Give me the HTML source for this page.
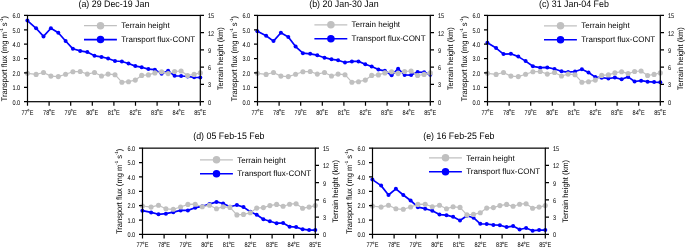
<!DOCTYPE html>
<html><head><meta charset="utf-8"><style>
html,body{margin:0;padding:0;background:#fff;}
body{width:685px;height:247px;overflow:hidden;}
svg{display:block;}
text{font-family:"Liberation Sans", sans-serif;fill:#000;text-rendering:geometricPrecision;}
.lg{font-size:8px;}
.tl{font-size:5.6px;}
.deg{font-size:4px;}
.tt{font-size:8.85px;}
.at{font-size:7.55px;}
.sup{font-size:4.3px;}
</style></head><body>
<svg width="685" height="247" viewBox="0 0 685 247">
<defs><filter id="bl" x="0" y="0" width="100%" height="100%"><feGaussianBlur stdDeviation="0.35"/></filter></defs>
<rect width="685" height="247" fill="#fff"/>
<g filter="url(#bl)">
<g transform="translate(0,0)">
<polyline points="27.4,20.6 36.1,28.3 43.5,36.4 50.9,28.2 58.3,32.8 65.6,41 72.9,48.8 80.2,50.9 87.3,52.1 94.5,55.8 101.5,56.9 108.1,58.5 115,61 121.9,61.5 128.5,63.5 135.3,66.1 141.7,67.2 148.4,69.1 154.9,69.7 161.6,73.8 168.1,70.7 174.6,75.8 181.1,76 187.6,76.5 194.1,77.3 200.3,77.5" fill="none" stroke="#0000ff" stroke-width="1.7" stroke-linejoin="round"/>
<circle cx="27.4" cy="20.6" r="2.0" fill="#0000ff"/>
<circle cx="36.1" cy="28.3" r="2.0" fill="#0000ff"/>
<circle cx="43.5" cy="36.4" r="2.0" fill="#0000ff"/>
<circle cx="50.9" cy="28.2" r="2.0" fill="#0000ff"/>
<circle cx="58.3" cy="32.8" r="2.0" fill="#0000ff"/>
<circle cx="65.6" cy="41" r="2.0" fill="#0000ff"/>
<circle cx="72.9" cy="48.8" r="2.0" fill="#0000ff"/>
<circle cx="80.2" cy="50.9" r="2.0" fill="#0000ff"/>
<circle cx="87.3" cy="52.1" r="2.0" fill="#0000ff"/>
<circle cx="94.5" cy="55.8" r="2.0" fill="#0000ff"/>
<circle cx="101.5" cy="56.9" r="2.0" fill="#0000ff"/>
<circle cx="108.1" cy="58.5" r="2.0" fill="#0000ff"/>
<circle cx="115" cy="61" r="2.0" fill="#0000ff"/>
<circle cx="121.9" cy="61.5" r="2.0" fill="#0000ff"/>
<circle cx="128.5" cy="63.5" r="2.0" fill="#0000ff"/>
<circle cx="135.3" cy="66.1" r="2.0" fill="#0000ff"/>
<circle cx="141.7" cy="67.2" r="2.0" fill="#0000ff"/>
<circle cx="148.4" cy="69.1" r="2.0" fill="#0000ff"/>
<circle cx="154.9" cy="69.7" r="2.0" fill="#0000ff"/>
<circle cx="161.6" cy="73.8" r="2.0" fill="#0000ff"/>
<circle cx="168.1" cy="70.7" r="2.0" fill="#0000ff"/>
<circle cx="174.6" cy="75.8" r="2.0" fill="#0000ff"/>
<circle cx="181.1" cy="76" r="2.0" fill="#0000ff"/>
<circle cx="187.6" cy="76.5" r="2.0" fill="#0000ff"/>
<circle cx="194.1" cy="77.3" r="2.0" fill="#0000ff"/>
<circle cx="200.3" cy="77.5" r="2.0" fill="#0000ff"/>
<polyline points="27.4,73.3 36.1,74.4 43.5,72.5 50.9,76.1 58.3,76.6 65.6,74.3 72.9,71.7 80.2,71.5 87.3,74.1 94.5,72.5 101.5,76 108.1,74.1 115,74.7 121.9,82.2 128.5,81.7 135.3,80.1 141.7,75.4 148.4,74.9 154.9,72.9 161.6,71.7 168.1,73.6 174.6,71.5 181.1,71 187.6,75.5 194.1,74.4 200.3,72.9" fill="none" stroke="#c0c0c0" stroke-width="1.2" stroke-linejoin="round"/>
<circle cx="27.4" cy="73.3" r="2.55" fill="#c0c0c0"/>
<circle cx="36.1" cy="74.4" r="2.55" fill="#c0c0c0"/>
<circle cx="43.5" cy="72.5" r="2.55" fill="#c0c0c0"/>
<circle cx="50.9" cy="76.1" r="2.55" fill="#c0c0c0"/>
<circle cx="58.3" cy="76.6" r="2.55" fill="#c0c0c0"/>
<circle cx="65.6" cy="74.3" r="2.55" fill="#c0c0c0"/>
<circle cx="72.9" cy="71.7" r="2.55" fill="#c0c0c0"/>
<circle cx="80.2" cy="71.5" r="2.55" fill="#c0c0c0"/>
<circle cx="87.3" cy="74.1" r="2.55" fill="#c0c0c0"/>
<circle cx="94.5" cy="72.5" r="2.55" fill="#c0c0c0"/>
<circle cx="101.5" cy="76" r="2.55" fill="#c0c0c0"/>
<circle cx="108.1" cy="74.1" r="2.55" fill="#c0c0c0"/>
<circle cx="115" cy="74.7" r="2.55" fill="#c0c0c0"/>
<circle cx="121.9" cy="82.2" r="2.55" fill="#c0c0c0"/>
<circle cx="128.5" cy="81.7" r="2.55" fill="#c0c0c0"/>
<circle cx="135.3" cy="80.1" r="2.55" fill="#c0c0c0"/>
<circle cx="141.7" cy="75.4" r="2.55" fill="#c0c0c0"/>
<circle cx="148.4" cy="74.9" r="2.55" fill="#c0c0c0"/>
<circle cx="154.9" cy="72.9" r="2.55" fill="#c0c0c0"/>
<circle cx="161.6" cy="71.7" r="2.55" fill="#c0c0c0"/>
<circle cx="168.1" cy="73.6" r="2.55" fill="#c0c0c0"/>
<circle cx="174.6" cy="71.5" r="2.55" fill="#c0c0c0"/>
<circle cx="181.1" cy="71" r="2.55" fill="#c0c0c0"/>
<circle cx="187.6" cy="75.5" r="2.55" fill="#c0c0c0"/>
<circle cx="194.1" cy="74.4" r="2.55" fill="#c0c0c0"/>
<circle cx="200.3" cy="72.9" r="2.55" fill="#c0c0c0"/>
<g transform="translate(0,0)">
<line x1="84" y1="25.7" x2="116.9" y2="25.7" stroke="#c0c0c0" stroke-width="1.2"/>
<circle cx="100.5" cy="25.7" r="3.75" fill="#c0c0c0"/>
<line x1="84" y1="39.6" x2="116.9" y2="39.6" stroke="#0000ff" stroke-width="1.6"/>
<circle cx="100.5" cy="39.6" r="3.75" fill="#0000ff"/>
<text x="121.2" y="28.4" class="lg">Terrain height</text>
<text x="121.2" y="42.3" class="lg">Transport flux-CONT</text>
</g>
<rect x="27.5" y="15.45" width="172.8" height="86.25" fill="none" stroke="#000" stroke-width="1.2"/>
<text transform="translate(20.2,104.54) scale(1,1.22)" class="tl" text-anchor="end">0.0</text>
<text transform="translate(20.2,90.17) scale(1,1.22)" class="tl" text-anchor="end">1.0</text>
<text transform="translate(20.2,75.79) scale(1,1.22)" class="tl" text-anchor="end">2.0</text>
<text transform="translate(20.2,61.41) scale(1,1.22)" class="tl" text-anchor="end">3.0</text>
<text transform="translate(20.2,47.04) scale(1,1.22)" class="tl" text-anchor="end">4.0</text>
<text transform="translate(20.2,32.66) scale(1,1.22)" class="tl" text-anchor="end">5.0</text>
<text transform="translate(20.2,18.29) scale(1,1.22)" class="tl" text-anchor="end">6.0</text>
<text transform="translate(207.9,104.59) scale(1,1.22)" class="tl">0</text>
<text transform="translate(207.9,87.34) scale(1,1.22)" class="tl">3</text>
<text transform="translate(207.9,70.09) scale(1,1.22)" class="tl">6</text>
<text transform="translate(207.9,52.84) scale(1,1.22)" class="tl">9</text>
<text transform="translate(207.9,35.59) scale(1,1.22)" class="tl">12</text>
<text transform="translate(207.9,18.34) scale(1,1.22)" class="tl">15</text>
<text transform="translate(27.65,114.6) scale(1,1.22)" class="tl" text-anchor="end">77</text>
<text transform="translate(29.7,114.6) scale(1,1.22)" class="tl">E</text>
<circle cx="28.4" cy="110.2" r="0.8" fill="none" stroke="#000" stroke-width="0.55"/>
<text transform="translate(49.25,114.6) scale(1,1.22)" class="tl" text-anchor="end">78</text>
<text transform="translate(51.3,114.6) scale(1,1.22)" class="tl">E</text>
<circle cx="50" cy="110.2" r="0.8" fill="none" stroke="#000" stroke-width="0.55"/>
<text transform="translate(70.85,114.6) scale(1,1.22)" class="tl" text-anchor="end">79</text>
<text transform="translate(72.9,114.6) scale(1,1.22)" class="tl">E</text>
<circle cx="71.6" cy="110.2" r="0.8" fill="none" stroke="#000" stroke-width="0.55"/>
<text transform="translate(92.45,114.6) scale(1,1.22)" class="tl" text-anchor="end">80</text>
<text transform="translate(94.5,114.6) scale(1,1.22)" class="tl">E</text>
<circle cx="93.2" cy="110.2" r="0.8" fill="none" stroke="#000" stroke-width="0.55"/>
<text transform="translate(114.05,114.6) scale(1,1.22)" class="tl" text-anchor="end">81</text>
<text transform="translate(116.1,114.6) scale(1,1.22)" class="tl">E</text>
<circle cx="114.8" cy="110.2" r="0.8" fill="none" stroke="#000" stroke-width="0.55"/>
<text transform="translate(135.65,114.6) scale(1,1.22)" class="tl" text-anchor="end">82</text>
<text transform="translate(137.7,114.6) scale(1,1.22)" class="tl">E</text>
<circle cx="136.4" cy="110.2" r="0.8" fill="none" stroke="#000" stroke-width="0.55"/>
<text transform="translate(157.25,114.6) scale(1,1.22)" class="tl" text-anchor="end">83</text>
<text transform="translate(159.3,114.6) scale(1,1.22)" class="tl">E</text>
<circle cx="158" cy="110.2" r="0.8" fill="none" stroke="#000" stroke-width="0.55"/>
<text transform="translate(178.85,114.6) scale(1,1.22)" class="tl" text-anchor="end">84</text>
<text transform="translate(180.9,114.6) scale(1,1.22)" class="tl">E</text>
<circle cx="179.6" cy="110.2" r="0.8" fill="none" stroke="#000" stroke-width="0.55"/>
<text transform="translate(200.45,114.6) scale(1,1.22)" class="tl" text-anchor="end">85</text>
<text transform="translate(202.5,114.6) scale(1,1.22)" class="tl">E</text>
<circle cx="201.2" cy="110.2" r="0.8" fill="none" stroke="#000" stroke-width="0.55"/>
<path d="M24 101.7H27.5M24 87.33H27.5M24 72.95H27.5M24 58.58H27.5M24 44.2H27.5M24 29.83H27.5M24 15.45H27.5M200.3 101.7H204M200.3 84.45H204M200.3 67.2H204M200.3 49.95H204M200.3 32.7H204M200.3 15.45H204M27.5 101.7V105.7M49.1 101.7V105.7M70.7 101.7V105.7M92.3 101.7V105.7M113.9 101.7V105.7M135.5 101.7V105.7M157.1 101.7V105.7M178.7 101.7V105.7M200.3 101.7V105.7" stroke="#000" stroke-width="1.2" fill="none"/>
<text transform="translate(113.9,6.5) scale(1,1.07)" class="tt" text-anchor="middle">(a) 29 Dec-19 Jan</text>
<text transform="translate(6.8,58.7) rotate(-90) scale(1,1.07)" class="at" text-anchor="middle">Transport flux (mg m<tspan class="sup" dy="-4">-1</tspan><tspan dy="4"> s</tspan><tspan class="sup" dy="-4">-1</tspan><tspan dy="4">)</tspan></text>
<text transform="translate(223.0,58.7) rotate(-90) scale(1,1.05)" class="at" text-anchor="middle">Terrain height (km)</text>
</g>
<g transform="translate(230,0)">
<polyline points="27.4,31.3 36.1,35.7 43.5,41.1 50.9,32.8 58.3,37 65.6,46.6 72.9,53.2 80.2,53.8 87.3,55.2 94.5,57.7 101.5,59.3 108.1,60.2 115,62.5 121.9,61.4 128.5,61.4 135.3,64.2 141.7,66.5 148.4,69.6 154.9,70.8 161.6,75.3 168.1,68.7 174.6,75 181.1,75.1 187.6,72.1 194.1,72.3 200.3,74.7" fill="none" stroke="#0000ff" stroke-width="1.7" stroke-linejoin="round"/>
<circle cx="27.4" cy="31.3" r="2.0" fill="#0000ff"/>
<circle cx="36.1" cy="35.7" r="2.0" fill="#0000ff"/>
<circle cx="43.5" cy="41.1" r="2.0" fill="#0000ff"/>
<circle cx="50.9" cy="32.8" r="2.0" fill="#0000ff"/>
<circle cx="58.3" cy="37" r="2.0" fill="#0000ff"/>
<circle cx="65.6" cy="46.6" r="2.0" fill="#0000ff"/>
<circle cx="72.9" cy="53.2" r="2.0" fill="#0000ff"/>
<circle cx="80.2" cy="53.8" r="2.0" fill="#0000ff"/>
<circle cx="87.3" cy="55.2" r="2.0" fill="#0000ff"/>
<circle cx="94.5" cy="57.7" r="2.0" fill="#0000ff"/>
<circle cx="101.5" cy="59.3" r="2.0" fill="#0000ff"/>
<circle cx="108.1" cy="60.2" r="2.0" fill="#0000ff"/>
<circle cx="115" cy="62.5" r="2.0" fill="#0000ff"/>
<circle cx="121.9" cy="61.4" r="2.0" fill="#0000ff"/>
<circle cx="128.5" cy="61.4" r="2.0" fill="#0000ff"/>
<circle cx="135.3" cy="64.2" r="2.0" fill="#0000ff"/>
<circle cx="141.7" cy="66.5" r="2.0" fill="#0000ff"/>
<circle cx="148.4" cy="69.6" r="2.0" fill="#0000ff"/>
<circle cx="154.9" cy="70.8" r="2.0" fill="#0000ff"/>
<circle cx="161.6" cy="75.3" r="2.0" fill="#0000ff"/>
<circle cx="168.1" cy="68.7" r="2.0" fill="#0000ff"/>
<circle cx="174.6" cy="75" r="2.0" fill="#0000ff"/>
<circle cx="181.1" cy="75.1" r="2.0" fill="#0000ff"/>
<circle cx="187.6" cy="72.1" r="2.0" fill="#0000ff"/>
<circle cx="194.1" cy="72.3" r="2.0" fill="#0000ff"/>
<circle cx="200.3" cy="74.7" r="2.0" fill="#0000ff"/>
<polyline points="27.4,73.3 36.1,74.4 43.5,72.5 50.9,76.1 58.3,76.6 65.6,74.3 72.9,71.7 80.2,71.5 87.3,74.1 94.5,72.5 101.5,76 108.1,74.1 115,74.7 121.9,82.2 128.5,81.7 135.3,80.1 141.7,75.4 148.4,74.9 154.9,72.9 161.6,71.7 168.1,73.6 174.6,71.5 181.1,71 187.6,75.5 194.1,74.4 200.3,72.9" fill="none" stroke="#c0c0c0" stroke-width="1.2" stroke-linejoin="round"/>
<circle cx="27.4" cy="73.3" r="2.55" fill="#c0c0c0"/>
<circle cx="36.1" cy="74.4" r="2.55" fill="#c0c0c0"/>
<circle cx="43.5" cy="72.5" r="2.55" fill="#c0c0c0"/>
<circle cx="50.9" cy="76.1" r="2.55" fill="#c0c0c0"/>
<circle cx="58.3" cy="76.6" r="2.55" fill="#c0c0c0"/>
<circle cx="65.6" cy="74.3" r="2.55" fill="#c0c0c0"/>
<circle cx="72.9" cy="71.7" r="2.55" fill="#c0c0c0"/>
<circle cx="80.2" cy="71.5" r="2.55" fill="#c0c0c0"/>
<circle cx="87.3" cy="74.1" r="2.55" fill="#c0c0c0"/>
<circle cx="94.5" cy="72.5" r="2.55" fill="#c0c0c0"/>
<circle cx="101.5" cy="76" r="2.55" fill="#c0c0c0"/>
<circle cx="108.1" cy="74.1" r="2.55" fill="#c0c0c0"/>
<circle cx="115" cy="74.7" r="2.55" fill="#c0c0c0"/>
<circle cx="121.9" cy="82.2" r="2.55" fill="#c0c0c0"/>
<circle cx="128.5" cy="81.7" r="2.55" fill="#c0c0c0"/>
<circle cx="135.3" cy="80.1" r="2.55" fill="#c0c0c0"/>
<circle cx="141.7" cy="75.4" r="2.55" fill="#c0c0c0"/>
<circle cx="148.4" cy="74.9" r="2.55" fill="#c0c0c0"/>
<circle cx="154.9" cy="72.9" r="2.55" fill="#c0c0c0"/>
<circle cx="161.6" cy="71.7" r="2.55" fill="#c0c0c0"/>
<circle cx="168.1" cy="73.6" r="2.55" fill="#c0c0c0"/>
<circle cx="174.6" cy="71.5" r="2.55" fill="#c0c0c0"/>
<circle cx="181.1" cy="71" r="2.55" fill="#c0c0c0"/>
<circle cx="187.6" cy="75.5" r="2.55" fill="#c0c0c0"/>
<circle cx="194.1" cy="74.4" r="2.55" fill="#c0c0c0"/>
<circle cx="200.3" cy="72.9" r="2.55" fill="#c0c0c0"/>
<g transform="translate(0.4,-0.9)">
<line x1="84" y1="25.7" x2="116.9" y2="25.7" stroke="#c0c0c0" stroke-width="1.2"/>
<circle cx="100.5" cy="25.7" r="3.75" fill="#c0c0c0"/>
<line x1="84" y1="39.6" x2="116.9" y2="39.6" stroke="#0000ff" stroke-width="1.6"/>
<circle cx="100.5" cy="39.6" r="3.75" fill="#0000ff"/>
<text x="121.2" y="28.4" class="lg">Terrain height</text>
<text x="121.2" y="42.3" class="lg">Transport flux-CONT</text>
</g>
<rect x="27.5" y="15.45" width="172.8" height="86.25" fill="none" stroke="#000" stroke-width="1.2"/>
<text transform="translate(20.2,104.54) scale(1,1.22)" class="tl" text-anchor="end">0.0</text>
<text transform="translate(20.2,90.17) scale(1,1.22)" class="tl" text-anchor="end">1.0</text>
<text transform="translate(20.2,75.79) scale(1,1.22)" class="tl" text-anchor="end">2.0</text>
<text transform="translate(20.2,61.41) scale(1,1.22)" class="tl" text-anchor="end">3.0</text>
<text transform="translate(20.2,47.04) scale(1,1.22)" class="tl" text-anchor="end">4.0</text>
<text transform="translate(20.2,32.66) scale(1,1.22)" class="tl" text-anchor="end">5.0</text>
<text transform="translate(20.2,18.29) scale(1,1.22)" class="tl" text-anchor="end">6.0</text>
<text transform="translate(207.9,104.59) scale(1,1.22)" class="tl">0</text>
<text transform="translate(207.9,87.34) scale(1,1.22)" class="tl">3</text>
<text transform="translate(207.9,70.09) scale(1,1.22)" class="tl">6</text>
<text transform="translate(207.9,52.84) scale(1,1.22)" class="tl">9</text>
<text transform="translate(207.9,35.59) scale(1,1.22)" class="tl">12</text>
<text transform="translate(207.9,18.34) scale(1,1.22)" class="tl">15</text>
<text transform="translate(27.65,114.6) scale(1,1.22)" class="tl" text-anchor="end">77</text>
<text transform="translate(29.7,114.6) scale(1,1.22)" class="tl">E</text>
<circle cx="28.4" cy="110.2" r="0.8" fill="none" stroke="#000" stroke-width="0.55"/>
<text transform="translate(49.25,114.6) scale(1,1.22)" class="tl" text-anchor="end">78</text>
<text transform="translate(51.3,114.6) scale(1,1.22)" class="tl">E</text>
<circle cx="50" cy="110.2" r="0.8" fill="none" stroke="#000" stroke-width="0.55"/>
<text transform="translate(70.85,114.6) scale(1,1.22)" class="tl" text-anchor="end">79</text>
<text transform="translate(72.9,114.6) scale(1,1.22)" class="tl">E</text>
<circle cx="71.6" cy="110.2" r="0.8" fill="none" stroke="#000" stroke-width="0.55"/>
<text transform="translate(92.45,114.6) scale(1,1.22)" class="tl" text-anchor="end">80</text>
<text transform="translate(94.5,114.6) scale(1,1.22)" class="tl">E</text>
<circle cx="93.2" cy="110.2" r="0.8" fill="none" stroke="#000" stroke-width="0.55"/>
<text transform="translate(114.05,114.6) scale(1,1.22)" class="tl" text-anchor="end">81</text>
<text transform="translate(116.1,114.6) scale(1,1.22)" class="tl">E</text>
<circle cx="114.8" cy="110.2" r="0.8" fill="none" stroke="#000" stroke-width="0.55"/>
<text transform="translate(135.65,114.6) scale(1,1.22)" class="tl" text-anchor="end">82</text>
<text transform="translate(137.7,114.6) scale(1,1.22)" class="tl">E</text>
<circle cx="136.4" cy="110.2" r="0.8" fill="none" stroke="#000" stroke-width="0.55"/>
<text transform="translate(157.25,114.6) scale(1,1.22)" class="tl" text-anchor="end">83</text>
<text transform="translate(159.3,114.6) scale(1,1.22)" class="tl">E</text>
<circle cx="158" cy="110.2" r="0.8" fill="none" stroke="#000" stroke-width="0.55"/>
<text transform="translate(178.85,114.6) scale(1,1.22)" class="tl" text-anchor="end">84</text>
<text transform="translate(180.9,114.6) scale(1,1.22)" class="tl">E</text>
<circle cx="179.6" cy="110.2" r="0.8" fill="none" stroke="#000" stroke-width="0.55"/>
<text transform="translate(200.45,114.6) scale(1,1.22)" class="tl" text-anchor="end">85</text>
<text transform="translate(202.5,114.6) scale(1,1.22)" class="tl">E</text>
<circle cx="201.2" cy="110.2" r="0.8" fill="none" stroke="#000" stroke-width="0.55"/>
<path d="M24 101.7H27.5M24 87.33H27.5M24 72.95H27.5M24 58.58H27.5M24 44.2H27.5M24 29.83H27.5M24 15.45H27.5M200.3 101.7H204M200.3 84.45H204M200.3 67.2H204M200.3 49.95H204M200.3 32.7H204M200.3 15.45H204M27.5 101.7V105.7M49.1 101.7V105.7M70.7 101.7V105.7M92.3 101.7V105.7M113.9 101.7V105.7M135.5 101.7V105.7M157.1 101.7V105.7M178.7 101.7V105.7M200.3 101.7V105.7" stroke="#000" stroke-width="1.2" fill="none"/>
<text transform="translate(113.9,6.5) scale(1,1.07)" class="tt" text-anchor="middle">(b) 20 Jan-30 Jan</text>
<text transform="translate(6.8,58.7) rotate(-90) scale(1,1.07)" class="at" text-anchor="middle">Transport flux (mg m<tspan class="sup" dy="-4">-1</tspan><tspan dy="4"> s</tspan><tspan class="sup" dy="-4">-1</tspan><tspan dy="4">)</tspan></text>
<text transform="translate(223.0,58.7) rotate(-90) scale(1,1.05)" class="at" text-anchor="middle">Terrain height (km)</text>
</g>
<g transform="translate(460,0)">
<polyline points="27.4,42.8 36.1,48.1 43.5,54.1 50.9,53.8 58.3,56.6 65.6,61.1 72.9,66.3 80.2,67.7 87.3,67.4 94.5,69 101.5,71.3 108.1,72.1 115,71.5 121.9,69.3 128.5,72.5 135.3,77.1 141.7,77.7 148.4,78.5 154.9,77.6 161.6,79.3 168.1,76.9 174.6,81.5 181.1,80.7 187.6,81.7 194.1,82.1 200.3,82.3" fill="none" stroke="#0000ff" stroke-width="1.7" stroke-linejoin="round"/>
<circle cx="27.4" cy="42.8" r="2.0" fill="#0000ff"/>
<circle cx="36.1" cy="48.1" r="2.0" fill="#0000ff"/>
<circle cx="43.5" cy="54.1" r="2.0" fill="#0000ff"/>
<circle cx="50.9" cy="53.8" r="2.0" fill="#0000ff"/>
<circle cx="58.3" cy="56.6" r="2.0" fill="#0000ff"/>
<circle cx="65.6" cy="61.1" r="2.0" fill="#0000ff"/>
<circle cx="72.9" cy="66.3" r="2.0" fill="#0000ff"/>
<circle cx="80.2" cy="67.7" r="2.0" fill="#0000ff"/>
<circle cx="87.3" cy="67.4" r="2.0" fill="#0000ff"/>
<circle cx="94.5" cy="69" r="2.0" fill="#0000ff"/>
<circle cx="101.5" cy="71.3" r="2.0" fill="#0000ff"/>
<circle cx="108.1" cy="72.1" r="2.0" fill="#0000ff"/>
<circle cx="115" cy="71.5" r="2.0" fill="#0000ff"/>
<circle cx="121.9" cy="69.3" r="2.0" fill="#0000ff"/>
<circle cx="128.5" cy="72.5" r="2.0" fill="#0000ff"/>
<circle cx="135.3" cy="77.1" r="2.0" fill="#0000ff"/>
<circle cx="141.7" cy="77.7" r="2.0" fill="#0000ff"/>
<circle cx="148.4" cy="78.5" r="2.0" fill="#0000ff"/>
<circle cx="154.9" cy="77.6" r="2.0" fill="#0000ff"/>
<circle cx="161.6" cy="79.3" r="2.0" fill="#0000ff"/>
<circle cx="168.1" cy="76.9" r="2.0" fill="#0000ff"/>
<circle cx="174.6" cy="81.5" r="2.0" fill="#0000ff"/>
<circle cx="181.1" cy="80.7" r="2.0" fill="#0000ff"/>
<circle cx="187.6" cy="81.7" r="2.0" fill="#0000ff"/>
<circle cx="194.1" cy="82.1" r="2.0" fill="#0000ff"/>
<circle cx="200.3" cy="82.3" r="2.0" fill="#0000ff"/>
<polyline points="27.4,73.3 36.1,74.4 43.5,72.5 50.9,76.1 58.3,76.6 65.6,74.3 72.9,71.7 80.2,71.5 87.3,74.1 94.5,72.5 101.5,76 108.1,74.1 115,74.7 121.9,82.2 128.5,81.7 135.3,80.1 141.7,75.4 148.4,74.9 154.9,72.9 161.6,71.7 168.1,73.6 174.6,71.5 181.1,71 187.6,75.5 194.1,74.4 200.3,72.9" fill="none" stroke="#c0c0c0" stroke-width="1.2" stroke-linejoin="round"/>
<circle cx="27.4" cy="73.3" r="2.55" fill="#c0c0c0"/>
<circle cx="36.1" cy="74.4" r="2.55" fill="#c0c0c0"/>
<circle cx="43.5" cy="72.5" r="2.55" fill="#c0c0c0"/>
<circle cx="50.9" cy="76.1" r="2.55" fill="#c0c0c0"/>
<circle cx="58.3" cy="76.6" r="2.55" fill="#c0c0c0"/>
<circle cx="65.6" cy="74.3" r="2.55" fill="#c0c0c0"/>
<circle cx="72.9" cy="71.7" r="2.55" fill="#c0c0c0"/>
<circle cx="80.2" cy="71.5" r="2.55" fill="#c0c0c0"/>
<circle cx="87.3" cy="74.1" r="2.55" fill="#c0c0c0"/>
<circle cx="94.5" cy="72.5" r="2.55" fill="#c0c0c0"/>
<circle cx="101.5" cy="76" r="2.55" fill="#c0c0c0"/>
<circle cx="108.1" cy="74.1" r="2.55" fill="#c0c0c0"/>
<circle cx="115" cy="74.7" r="2.55" fill="#c0c0c0"/>
<circle cx="121.9" cy="82.2" r="2.55" fill="#c0c0c0"/>
<circle cx="128.5" cy="81.7" r="2.55" fill="#c0c0c0"/>
<circle cx="135.3" cy="80.1" r="2.55" fill="#c0c0c0"/>
<circle cx="141.7" cy="75.4" r="2.55" fill="#c0c0c0"/>
<circle cx="148.4" cy="74.9" r="2.55" fill="#c0c0c0"/>
<circle cx="154.9" cy="72.9" r="2.55" fill="#c0c0c0"/>
<circle cx="161.6" cy="71.7" r="2.55" fill="#c0c0c0"/>
<circle cx="168.1" cy="73.6" r="2.55" fill="#c0c0c0"/>
<circle cx="174.6" cy="71.5" r="2.55" fill="#c0c0c0"/>
<circle cx="181.1" cy="71" r="2.55" fill="#c0c0c0"/>
<circle cx="187.6" cy="75.5" r="2.55" fill="#c0c0c0"/>
<circle cx="194.1" cy="74.4" r="2.55" fill="#c0c0c0"/>
<circle cx="200.3" cy="72.9" r="2.55" fill="#c0c0c0"/>
<g transform="translate(0,0.1)">
<line x1="84" y1="25.7" x2="116.9" y2="25.7" stroke="#c0c0c0" stroke-width="1.2"/>
<circle cx="100.5" cy="25.7" r="3.75" fill="#c0c0c0"/>
<line x1="84" y1="39.6" x2="116.9" y2="39.6" stroke="#0000ff" stroke-width="1.6"/>
<circle cx="100.5" cy="39.6" r="3.75" fill="#0000ff"/>
<text x="121.2" y="28.4" class="lg">Terrain height</text>
<text x="121.2" y="42.3" class="lg">Transport flux-CONT</text>
</g>
<rect x="27.5" y="15.45" width="172.8" height="86.25" fill="none" stroke="#000" stroke-width="1.2"/>
<text transform="translate(20.2,104.54) scale(1,1.22)" class="tl" text-anchor="end">0.0</text>
<text transform="translate(20.2,90.17) scale(1,1.22)" class="tl" text-anchor="end">1.0</text>
<text transform="translate(20.2,75.79) scale(1,1.22)" class="tl" text-anchor="end">2.0</text>
<text transform="translate(20.2,61.41) scale(1,1.22)" class="tl" text-anchor="end">3.0</text>
<text transform="translate(20.2,47.04) scale(1,1.22)" class="tl" text-anchor="end">4.0</text>
<text transform="translate(20.2,32.66) scale(1,1.22)" class="tl" text-anchor="end">5.0</text>
<text transform="translate(20.2,18.29) scale(1,1.22)" class="tl" text-anchor="end">6.0</text>
<text transform="translate(207.9,104.59) scale(1,1.22)" class="tl">0</text>
<text transform="translate(207.9,87.34) scale(1,1.22)" class="tl">3</text>
<text transform="translate(207.9,70.09) scale(1,1.22)" class="tl">6</text>
<text transform="translate(207.9,52.84) scale(1,1.22)" class="tl">9</text>
<text transform="translate(207.9,35.59) scale(1,1.22)" class="tl">12</text>
<text transform="translate(207.9,18.34) scale(1,1.22)" class="tl">15</text>
<text transform="translate(27.65,114.6) scale(1,1.22)" class="tl" text-anchor="end">77</text>
<text transform="translate(29.7,114.6) scale(1,1.22)" class="tl">E</text>
<circle cx="28.4" cy="110.2" r="0.8" fill="none" stroke="#000" stroke-width="0.55"/>
<text transform="translate(49.25,114.6) scale(1,1.22)" class="tl" text-anchor="end">78</text>
<text transform="translate(51.3,114.6) scale(1,1.22)" class="tl">E</text>
<circle cx="50" cy="110.2" r="0.8" fill="none" stroke="#000" stroke-width="0.55"/>
<text transform="translate(70.85,114.6) scale(1,1.22)" class="tl" text-anchor="end">79</text>
<text transform="translate(72.9,114.6) scale(1,1.22)" class="tl">E</text>
<circle cx="71.6" cy="110.2" r="0.8" fill="none" stroke="#000" stroke-width="0.55"/>
<text transform="translate(92.45,114.6) scale(1,1.22)" class="tl" text-anchor="end">80</text>
<text transform="translate(94.5,114.6) scale(1,1.22)" class="tl">E</text>
<circle cx="93.2" cy="110.2" r="0.8" fill="none" stroke="#000" stroke-width="0.55"/>
<text transform="translate(114.05,114.6) scale(1,1.22)" class="tl" text-anchor="end">81</text>
<text transform="translate(116.1,114.6) scale(1,1.22)" class="tl">E</text>
<circle cx="114.8" cy="110.2" r="0.8" fill="none" stroke="#000" stroke-width="0.55"/>
<text transform="translate(135.65,114.6) scale(1,1.22)" class="tl" text-anchor="end">82</text>
<text transform="translate(137.7,114.6) scale(1,1.22)" class="tl">E</text>
<circle cx="136.4" cy="110.2" r="0.8" fill="none" stroke="#000" stroke-width="0.55"/>
<text transform="translate(157.25,114.6) scale(1,1.22)" class="tl" text-anchor="end">83</text>
<text transform="translate(159.3,114.6) scale(1,1.22)" class="tl">E</text>
<circle cx="158" cy="110.2" r="0.8" fill="none" stroke="#000" stroke-width="0.55"/>
<text transform="translate(178.85,114.6) scale(1,1.22)" class="tl" text-anchor="end">84</text>
<text transform="translate(180.9,114.6) scale(1,1.22)" class="tl">E</text>
<circle cx="179.6" cy="110.2" r="0.8" fill="none" stroke="#000" stroke-width="0.55"/>
<text transform="translate(200.45,114.6) scale(1,1.22)" class="tl" text-anchor="end">85</text>
<text transform="translate(202.5,114.6) scale(1,1.22)" class="tl">E</text>
<circle cx="201.2" cy="110.2" r="0.8" fill="none" stroke="#000" stroke-width="0.55"/>
<path d="M24 101.7H27.5M24 87.33H27.5M24 72.95H27.5M24 58.58H27.5M24 44.2H27.5M24 29.83H27.5M24 15.45H27.5M200.3 101.7H204M200.3 84.45H204M200.3 67.2H204M200.3 49.95H204M200.3 32.7H204M200.3 15.45H204M27.5 101.7V105.7M49.1 101.7V105.7M70.7 101.7V105.7M92.3 101.7V105.7M113.9 101.7V105.7M135.5 101.7V105.7M157.1 101.7V105.7M178.7 101.7V105.7M200.3 101.7V105.7" stroke="#000" stroke-width="1.2" fill="none"/>
<text transform="translate(113.9,6.5) scale(1,1.07)" class="tt" text-anchor="middle">(c) 31 Jan-04 Feb</text>
<text transform="translate(6.8,58.7) rotate(-90) scale(1,1.07)" class="at" text-anchor="middle">Transport flux (mg m<tspan class="sup" dy="-4">-1</tspan><tspan dy="4"> s</tspan><tspan class="sup" dy="-4">-1</tspan><tspan dy="4">)</tspan></text>
<text transform="translate(223.0,58.7) rotate(-90) scale(1,1.05)" class="at" text-anchor="middle">Terrain height (km)</text>
</g>
<g transform="translate(115,132.7)">
<polyline points="27.4,78 36.1,79.7 43.5,81.6 50.9,81 58.3,79.5 65.6,77.7 72.9,77.7 80.2,75.1 87.3,73.5 94.5,71.4 101.5,69.2 108.1,70.8 115,74.1 121.9,72.3 128.5,74.4 135.3,79.1 141.7,82 148.4,86.5 154.9,88.5 161.6,90.5 168.1,90.3 174.6,94 181.1,94.4 187.6,96.5 194.1,97.4 200.3,97.4" fill="none" stroke="#0000ff" stroke-width="1.7" stroke-linejoin="round"/>
<circle cx="27.4" cy="78" r="2.0" fill="#0000ff"/>
<circle cx="36.1" cy="79.7" r="2.0" fill="#0000ff"/>
<circle cx="43.5" cy="81.6" r="2.0" fill="#0000ff"/>
<circle cx="50.9" cy="81" r="2.0" fill="#0000ff"/>
<circle cx="58.3" cy="79.5" r="2.0" fill="#0000ff"/>
<circle cx="65.6" cy="77.7" r="2.0" fill="#0000ff"/>
<circle cx="72.9" cy="77.7" r="2.0" fill="#0000ff"/>
<circle cx="80.2" cy="75.1" r="2.0" fill="#0000ff"/>
<circle cx="87.3" cy="73.5" r="2.0" fill="#0000ff"/>
<circle cx="94.5" cy="71.4" r="2.0" fill="#0000ff"/>
<circle cx="101.5" cy="69.2" r="2.0" fill="#0000ff"/>
<circle cx="108.1" cy="70.8" r="2.0" fill="#0000ff"/>
<circle cx="115" cy="74.1" r="2.0" fill="#0000ff"/>
<circle cx="121.9" cy="72.3" r="2.0" fill="#0000ff"/>
<circle cx="128.5" cy="74.4" r="2.0" fill="#0000ff"/>
<circle cx="135.3" cy="79.1" r="2.0" fill="#0000ff"/>
<circle cx="141.7" cy="82" r="2.0" fill="#0000ff"/>
<circle cx="148.4" cy="86.5" r="2.0" fill="#0000ff"/>
<circle cx="154.9" cy="88.5" r="2.0" fill="#0000ff"/>
<circle cx="161.6" cy="90.5" r="2.0" fill="#0000ff"/>
<circle cx="168.1" cy="90.3" r="2.0" fill="#0000ff"/>
<circle cx="174.6" cy="94" r="2.0" fill="#0000ff"/>
<circle cx="181.1" cy="94.4" r="2.0" fill="#0000ff"/>
<circle cx="187.6" cy="96.5" r="2.0" fill="#0000ff"/>
<circle cx="194.1" cy="97.4" r="2.0" fill="#0000ff"/>
<circle cx="200.3" cy="97.4" r="2.0" fill="#0000ff"/>
<polyline points="27.4,73.3 36.1,74.4 43.5,72.5 50.9,76.1 58.3,76.6 65.6,74.3 72.9,71.7 80.2,71.5 87.3,74.1 94.5,72.5 101.5,76 108.1,74.1 115,74.7 121.9,82.2 128.5,81.7 135.3,80.1 141.7,75.4 148.4,74.9 154.9,72.9 161.6,71.7 168.1,73.6 174.6,71.5 181.1,71 187.6,75.5 194.1,74.4 200.3,72.9" fill="none" stroke="#c0c0c0" stroke-width="1.2" stroke-linejoin="round"/>
<circle cx="27.4" cy="73.3" r="2.55" fill="#c0c0c0"/>
<circle cx="36.1" cy="74.4" r="2.55" fill="#c0c0c0"/>
<circle cx="43.5" cy="72.5" r="2.55" fill="#c0c0c0"/>
<circle cx="50.9" cy="76.1" r="2.55" fill="#c0c0c0"/>
<circle cx="58.3" cy="76.6" r="2.55" fill="#c0c0c0"/>
<circle cx="65.6" cy="74.3" r="2.55" fill="#c0c0c0"/>
<circle cx="72.9" cy="71.7" r="2.55" fill="#c0c0c0"/>
<circle cx="80.2" cy="71.5" r="2.55" fill="#c0c0c0"/>
<circle cx="87.3" cy="74.1" r="2.55" fill="#c0c0c0"/>
<circle cx="94.5" cy="72.5" r="2.55" fill="#c0c0c0"/>
<circle cx="101.5" cy="76" r="2.55" fill="#c0c0c0"/>
<circle cx="108.1" cy="74.1" r="2.55" fill="#c0c0c0"/>
<circle cx="115" cy="74.7" r="2.55" fill="#c0c0c0"/>
<circle cx="121.9" cy="82.2" r="2.55" fill="#c0c0c0"/>
<circle cx="128.5" cy="81.7" r="2.55" fill="#c0c0c0"/>
<circle cx="135.3" cy="80.1" r="2.55" fill="#c0c0c0"/>
<circle cx="141.7" cy="75.4" r="2.55" fill="#c0c0c0"/>
<circle cx="148.4" cy="74.9" r="2.55" fill="#c0c0c0"/>
<circle cx="154.9" cy="72.9" r="2.55" fill="#c0c0c0"/>
<circle cx="161.6" cy="71.7" r="2.55" fill="#c0c0c0"/>
<circle cx="168.1" cy="73.6" r="2.55" fill="#c0c0c0"/>
<circle cx="174.6" cy="71.5" r="2.55" fill="#c0c0c0"/>
<circle cx="181.1" cy="71" r="2.55" fill="#c0c0c0"/>
<circle cx="187.6" cy="75.5" r="2.55" fill="#c0c0c0"/>
<circle cx="194.1" cy="74.4" r="2.55" fill="#c0c0c0"/>
<circle cx="200.3" cy="72.9" r="2.55" fill="#c0c0c0"/>
<g transform="translate(1,1.45)">
<line x1="84" y1="25.7" x2="116.9" y2="25.7" stroke="#c0c0c0" stroke-width="1.2"/>
<circle cx="100.5" cy="25.7" r="3.75" fill="#c0c0c0"/>
<line x1="84" y1="39.6" x2="116.9" y2="39.6" stroke="#0000ff" stroke-width="1.6"/>
<circle cx="100.5" cy="39.6" r="3.75" fill="#0000ff"/>
<text x="121.2" y="28.4" class="lg">Terrain height</text>
<text x="121.2" y="42.3" class="lg">Transport flux-CONT</text>
</g>
<rect x="27.5" y="15.45" width="172.8" height="86.25" fill="none" stroke="#000" stroke-width="1.2"/>
<text transform="translate(20.2,104.54) scale(1,1.22)" class="tl" text-anchor="end">0.0</text>
<text transform="translate(20.2,90.17) scale(1,1.22)" class="tl" text-anchor="end">1.0</text>
<text transform="translate(20.2,75.79) scale(1,1.22)" class="tl" text-anchor="end">2.0</text>
<text transform="translate(20.2,61.41) scale(1,1.22)" class="tl" text-anchor="end">3.0</text>
<text transform="translate(20.2,47.04) scale(1,1.22)" class="tl" text-anchor="end">4.0</text>
<text transform="translate(20.2,32.66) scale(1,1.22)" class="tl" text-anchor="end">5.0</text>
<text transform="translate(20.2,18.29) scale(1,1.22)" class="tl" text-anchor="end">6.0</text>
<text transform="translate(207.9,104.59) scale(1,1.22)" class="tl">0</text>
<text transform="translate(207.9,87.34) scale(1,1.22)" class="tl">3</text>
<text transform="translate(207.9,70.09) scale(1,1.22)" class="tl">6</text>
<text transform="translate(207.9,52.84) scale(1,1.22)" class="tl">9</text>
<text transform="translate(207.9,35.59) scale(1,1.22)" class="tl">12</text>
<text transform="translate(207.9,18.34) scale(1,1.22)" class="tl">15</text>
<text transform="translate(27.65,114.6) scale(1,1.22)" class="tl" text-anchor="end">77</text>
<text transform="translate(29.7,114.6) scale(1,1.22)" class="tl">E</text>
<circle cx="28.4" cy="110.2" r="0.8" fill="none" stroke="#000" stroke-width="0.55"/>
<text transform="translate(49.25,114.6) scale(1,1.22)" class="tl" text-anchor="end">78</text>
<text transform="translate(51.3,114.6) scale(1,1.22)" class="tl">E</text>
<circle cx="50" cy="110.2" r="0.8" fill="none" stroke="#000" stroke-width="0.55"/>
<text transform="translate(70.85,114.6) scale(1,1.22)" class="tl" text-anchor="end">79</text>
<text transform="translate(72.9,114.6) scale(1,1.22)" class="tl">E</text>
<circle cx="71.6" cy="110.2" r="0.8" fill="none" stroke="#000" stroke-width="0.55"/>
<text transform="translate(92.45,114.6) scale(1,1.22)" class="tl" text-anchor="end">80</text>
<text transform="translate(94.5,114.6) scale(1,1.22)" class="tl">E</text>
<circle cx="93.2" cy="110.2" r="0.8" fill="none" stroke="#000" stroke-width="0.55"/>
<text transform="translate(114.05,114.6) scale(1,1.22)" class="tl" text-anchor="end">81</text>
<text transform="translate(116.1,114.6) scale(1,1.22)" class="tl">E</text>
<circle cx="114.8" cy="110.2" r="0.8" fill="none" stroke="#000" stroke-width="0.55"/>
<text transform="translate(135.65,114.6) scale(1,1.22)" class="tl" text-anchor="end">82</text>
<text transform="translate(137.7,114.6) scale(1,1.22)" class="tl">E</text>
<circle cx="136.4" cy="110.2" r="0.8" fill="none" stroke="#000" stroke-width="0.55"/>
<text transform="translate(157.25,114.6) scale(1,1.22)" class="tl" text-anchor="end">83</text>
<text transform="translate(159.3,114.6) scale(1,1.22)" class="tl">E</text>
<circle cx="158" cy="110.2" r="0.8" fill="none" stroke="#000" stroke-width="0.55"/>
<text transform="translate(178.85,114.6) scale(1,1.22)" class="tl" text-anchor="end">84</text>
<text transform="translate(180.9,114.6) scale(1,1.22)" class="tl">E</text>
<circle cx="179.6" cy="110.2" r="0.8" fill="none" stroke="#000" stroke-width="0.55"/>
<text transform="translate(200.45,114.6) scale(1,1.22)" class="tl" text-anchor="end">85</text>
<text transform="translate(202.5,114.6) scale(1,1.22)" class="tl">E</text>
<circle cx="201.2" cy="110.2" r="0.8" fill="none" stroke="#000" stroke-width="0.55"/>
<path d="M24 101.7H27.5M24 87.33H27.5M24 72.95H27.5M24 58.58H27.5M24 44.2H27.5M24 29.83H27.5M24 15.45H27.5M200.3 101.7H204M200.3 84.45H204M200.3 67.2H204M200.3 49.95H204M200.3 32.7H204M200.3 15.45H204M27.5 101.7V105.7M49.1 101.7V105.7M70.7 101.7V105.7M92.3 101.7V105.7M113.9 101.7V105.7M135.5 101.7V105.7M157.1 101.7V105.7M178.7 101.7V105.7M200.3 101.7V105.7" stroke="#000" stroke-width="1.2" fill="none"/>
<text transform="translate(113.9,6.5) scale(1,1.07)" class="tt" text-anchor="middle">(d) 05 Feb-15 Feb</text>
<text transform="translate(6.8,58.7) rotate(-90) scale(1,1.07)" class="at" text-anchor="middle">Transport flux (mg m<tspan class="sup" dy="-4">-1</tspan><tspan dy="4"> s</tspan><tspan class="sup" dy="-4">-1</tspan><tspan dy="4">)</tspan></text>
<text transform="translate(223.0,58.7) rotate(-90) scale(1,1.05)" class="at" text-anchor="middle">Terrain height (km)</text>
</g>
<g transform="translate(345,132.7)">
<polyline points="27.4,46.9 36.1,52.9 43.5,62.3 50.9,56.1 58.3,62.3 65.6,67.8 72.9,74.5 80.2,76 87.3,78 94.5,81.9 101.5,82.5 108.1,84.1 115,87.8 121.9,83.1 128.5,85 135.3,91.1 141.7,91.3 148.4,92.2 154.9,92.5 161.6,94.4 168.1,93.4 174.6,96.8 181.1,95.3 187.6,98 194.1,97.4 200.3,97.4" fill="none" stroke="#0000ff" stroke-width="1.7" stroke-linejoin="round"/>
<circle cx="27.4" cy="46.9" r="2.0" fill="#0000ff"/>
<circle cx="36.1" cy="52.9" r="2.0" fill="#0000ff"/>
<circle cx="43.5" cy="62.3" r="2.0" fill="#0000ff"/>
<circle cx="50.9" cy="56.1" r="2.0" fill="#0000ff"/>
<circle cx="58.3" cy="62.3" r="2.0" fill="#0000ff"/>
<circle cx="65.6" cy="67.8" r="2.0" fill="#0000ff"/>
<circle cx="72.9" cy="74.5" r="2.0" fill="#0000ff"/>
<circle cx="80.2" cy="76" r="2.0" fill="#0000ff"/>
<circle cx="87.3" cy="78" r="2.0" fill="#0000ff"/>
<circle cx="94.5" cy="81.9" r="2.0" fill="#0000ff"/>
<circle cx="101.5" cy="82.5" r="2.0" fill="#0000ff"/>
<circle cx="108.1" cy="84.1" r="2.0" fill="#0000ff"/>
<circle cx="115" cy="87.8" r="2.0" fill="#0000ff"/>
<circle cx="121.9" cy="83.1" r="2.0" fill="#0000ff"/>
<circle cx="128.5" cy="85" r="2.0" fill="#0000ff"/>
<circle cx="135.3" cy="91.1" r="2.0" fill="#0000ff"/>
<circle cx="141.7" cy="91.3" r="2.0" fill="#0000ff"/>
<circle cx="148.4" cy="92.2" r="2.0" fill="#0000ff"/>
<circle cx="154.9" cy="92.5" r="2.0" fill="#0000ff"/>
<circle cx="161.6" cy="94.4" r="2.0" fill="#0000ff"/>
<circle cx="168.1" cy="93.4" r="2.0" fill="#0000ff"/>
<circle cx="174.6" cy="96.8" r="2.0" fill="#0000ff"/>
<circle cx="181.1" cy="95.3" r="2.0" fill="#0000ff"/>
<circle cx="187.6" cy="98" r="2.0" fill="#0000ff"/>
<circle cx="194.1" cy="97.4" r="2.0" fill="#0000ff"/>
<circle cx="200.3" cy="97.4" r="2.0" fill="#0000ff"/>
<polyline points="27.4,73.3 36.1,74.4 43.5,72.5 50.9,76.1 58.3,76.6 65.6,74.3 72.9,71.7 80.2,71.5 87.3,74.1 94.5,72.5 101.5,76 108.1,74.1 115,74.7 121.9,82.2 128.5,81.7 135.3,80.1 141.7,75.4 148.4,74.9 154.9,72.9 161.6,71.7 168.1,73.6 174.6,71.5 181.1,71 187.6,75.5 194.1,74.4 200.3,72.9" fill="none" stroke="#c0c0c0" stroke-width="1.2" stroke-linejoin="round"/>
<circle cx="27.4" cy="73.3" r="2.55" fill="#c0c0c0"/>
<circle cx="36.1" cy="74.4" r="2.55" fill="#c0c0c0"/>
<circle cx="43.5" cy="72.5" r="2.55" fill="#c0c0c0"/>
<circle cx="50.9" cy="76.1" r="2.55" fill="#c0c0c0"/>
<circle cx="58.3" cy="76.6" r="2.55" fill="#c0c0c0"/>
<circle cx="65.6" cy="74.3" r="2.55" fill="#c0c0c0"/>
<circle cx="72.9" cy="71.7" r="2.55" fill="#c0c0c0"/>
<circle cx="80.2" cy="71.5" r="2.55" fill="#c0c0c0"/>
<circle cx="87.3" cy="74.1" r="2.55" fill="#c0c0c0"/>
<circle cx="94.5" cy="72.5" r="2.55" fill="#c0c0c0"/>
<circle cx="101.5" cy="76" r="2.55" fill="#c0c0c0"/>
<circle cx="108.1" cy="74.1" r="2.55" fill="#c0c0c0"/>
<circle cx="115" cy="74.7" r="2.55" fill="#c0c0c0"/>
<circle cx="121.9" cy="82.2" r="2.55" fill="#c0c0c0"/>
<circle cx="128.5" cy="81.7" r="2.55" fill="#c0c0c0"/>
<circle cx="135.3" cy="80.1" r="2.55" fill="#c0c0c0"/>
<circle cx="141.7" cy="75.4" r="2.55" fill="#c0c0c0"/>
<circle cx="148.4" cy="74.9" r="2.55" fill="#c0c0c0"/>
<circle cx="154.9" cy="72.9" r="2.55" fill="#c0c0c0"/>
<circle cx="161.6" cy="71.7" r="2.55" fill="#c0c0c0"/>
<circle cx="168.1" cy="73.6" r="2.55" fill="#c0c0c0"/>
<circle cx="174.6" cy="71.5" r="2.55" fill="#c0c0c0"/>
<circle cx="181.1" cy="71" r="2.55" fill="#c0c0c0"/>
<circle cx="187.6" cy="75.5" r="2.55" fill="#c0c0c0"/>
<circle cx="194.1" cy="74.4" r="2.55" fill="#c0c0c0"/>
<circle cx="200.3" cy="72.9" r="2.55" fill="#c0c0c0"/>
<g transform="translate(0,-0.55)">
<line x1="84" y1="25.7" x2="116.9" y2="25.7" stroke="#c0c0c0" stroke-width="1.2"/>
<circle cx="100.5" cy="25.7" r="3.75" fill="#c0c0c0"/>
<line x1="84" y1="39.6" x2="116.9" y2="39.6" stroke="#0000ff" stroke-width="1.6"/>
<circle cx="100.5" cy="39.6" r="3.75" fill="#0000ff"/>
<text x="121.2" y="28.4" class="lg">Terrain height</text>
<text x="121.2" y="42.3" class="lg">Transport flux-CONT</text>
</g>
<rect x="27.5" y="15.45" width="172.8" height="86.25" fill="none" stroke="#000" stroke-width="1.2"/>
<text transform="translate(20.2,104.54) scale(1,1.22)" class="tl" text-anchor="end">0.0</text>
<text transform="translate(20.2,90.17) scale(1,1.22)" class="tl" text-anchor="end">1.0</text>
<text transform="translate(20.2,75.79) scale(1,1.22)" class="tl" text-anchor="end">2.0</text>
<text transform="translate(20.2,61.41) scale(1,1.22)" class="tl" text-anchor="end">3.0</text>
<text transform="translate(20.2,47.04) scale(1,1.22)" class="tl" text-anchor="end">4.0</text>
<text transform="translate(20.2,32.66) scale(1,1.22)" class="tl" text-anchor="end">5.0</text>
<text transform="translate(20.2,18.29) scale(1,1.22)" class="tl" text-anchor="end">6.0</text>
<text transform="translate(207.9,104.59) scale(1,1.22)" class="tl">0</text>
<text transform="translate(207.9,87.34) scale(1,1.22)" class="tl">3</text>
<text transform="translate(207.9,70.09) scale(1,1.22)" class="tl">6</text>
<text transform="translate(207.9,52.84) scale(1,1.22)" class="tl">9</text>
<text transform="translate(207.9,35.59) scale(1,1.22)" class="tl">12</text>
<text transform="translate(207.9,18.34) scale(1,1.22)" class="tl">15</text>
<text transform="translate(27.65,114.6) scale(1,1.22)" class="tl" text-anchor="end">77</text>
<text transform="translate(29.7,114.6) scale(1,1.22)" class="tl">E</text>
<circle cx="28.4" cy="110.2" r="0.8" fill="none" stroke="#000" stroke-width="0.55"/>
<text transform="translate(49.25,114.6) scale(1,1.22)" class="tl" text-anchor="end">78</text>
<text transform="translate(51.3,114.6) scale(1,1.22)" class="tl">E</text>
<circle cx="50" cy="110.2" r="0.8" fill="none" stroke="#000" stroke-width="0.55"/>
<text transform="translate(70.85,114.6) scale(1,1.22)" class="tl" text-anchor="end">79</text>
<text transform="translate(72.9,114.6) scale(1,1.22)" class="tl">E</text>
<circle cx="71.6" cy="110.2" r="0.8" fill="none" stroke="#000" stroke-width="0.55"/>
<text transform="translate(92.45,114.6) scale(1,1.22)" class="tl" text-anchor="end">80</text>
<text transform="translate(94.5,114.6) scale(1,1.22)" class="tl">E</text>
<circle cx="93.2" cy="110.2" r="0.8" fill="none" stroke="#000" stroke-width="0.55"/>
<text transform="translate(114.05,114.6) scale(1,1.22)" class="tl" text-anchor="end">81</text>
<text transform="translate(116.1,114.6) scale(1,1.22)" class="tl">E</text>
<circle cx="114.8" cy="110.2" r="0.8" fill="none" stroke="#000" stroke-width="0.55"/>
<text transform="translate(135.65,114.6) scale(1,1.22)" class="tl" text-anchor="end">82</text>
<text transform="translate(137.7,114.6) scale(1,1.22)" class="tl">E</text>
<circle cx="136.4" cy="110.2" r="0.8" fill="none" stroke="#000" stroke-width="0.55"/>
<text transform="translate(157.25,114.6) scale(1,1.22)" class="tl" text-anchor="end">83</text>
<text transform="translate(159.3,114.6) scale(1,1.22)" class="tl">E</text>
<circle cx="158" cy="110.2" r="0.8" fill="none" stroke="#000" stroke-width="0.55"/>
<text transform="translate(178.85,114.6) scale(1,1.22)" class="tl" text-anchor="end">84</text>
<text transform="translate(180.9,114.6) scale(1,1.22)" class="tl">E</text>
<circle cx="179.6" cy="110.2" r="0.8" fill="none" stroke="#000" stroke-width="0.55"/>
<text transform="translate(200.45,114.6) scale(1,1.22)" class="tl" text-anchor="end">85</text>
<text transform="translate(202.5,114.6) scale(1,1.22)" class="tl">E</text>
<circle cx="201.2" cy="110.2" r="0.8" fill="none" stroke="#000" stroke-width="0.55"/>
<path d="M24 101.7H27.5M24 87.33H27.5M24 72.95H27.5M24 58.58H27.5M24 44.2H27.5M24 29.83H27.5M24 15.45H27.5M200.3 101.7H204M200.3 84.45H204M200.3 67.2H204M200.3 49.95H204M200.3 32.7H204M200.3 15.45H204M27.5 101.7V105.7M49.1 101.7V105.7M70.7 101.7V105.7M92.3 101.7V105.7M113.9 101.7V105.7M135.5 101.7V105.7M157.1 101.7V105.7M178.7 101.7V105.7M200.3 101.7V105.7" stroke="#000" stroke-width="1.2" fill="none"/>
<text transform="translate(113.9,6.5) scale(1,1.07)" class="tt" text-anchor="middle">(e) 16 Feb-25 Feb</text>
<text transform="translate(6.8,58.7) rotate(-90) scale(1,1.07)" class="at" text-anchor="middle">Transport flux (mg m<tspan class="sup" dy="-4">-1</tspan><tspan dy="4"> s</tspan><tspan class="sup" dy="-4">-1</tspan><tspan dy="4">)</tspan></text>
<text transform="translate(223.0,58.7) rotate(-90) scale(1,1.05)" class="at" text-anchor="middle">Terrain height (km)</text>
</g>
</g>
</svg>
</body></html>
